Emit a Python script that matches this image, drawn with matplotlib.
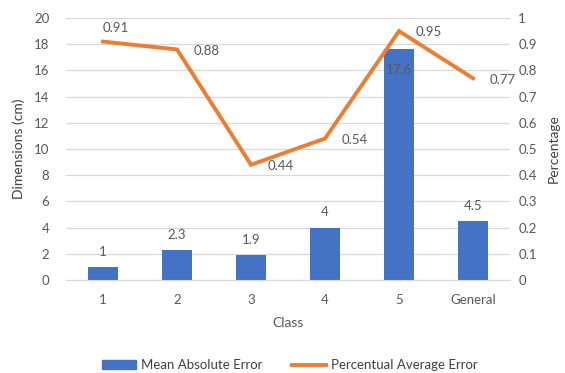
import numpy as np
import matplotlib.pyplot as plt
from matplotlib.lines import Line2D
from matplotlib.patches import Patch

classes = ['1', '2', '3', '4', '5', 'General']
mae = [1, 2.3, 1.9, 4, 17.6, 4.5]
pae = [0.91, 0.88, 0.44, 0.54, 0.95, 0.77]

BLUE = '#4472C4'
ORANGE = '#ED7D31'
GREY = '#595959'

plt.rcParams['font.family'] = ['Lato', 'DejaVu Sans']
plt.rcParams['font.size'] = 9.5

fig = plt.figure(figsize=(5.65, 3.73), dpi=100)
ax = fig.add_axes([66/565, 1 - 280/373, (510-66)/565, (280-18)/373])
ax2 = ax.twinx()

x = np.arange(len(classes))
ax.bar(x, mae, width=0.41, color=BLUE, zorder=2)
ax2.plot(x, pae, color=ORANGE, lw=2.8, solid_joinstyle='miter', zorder=3)

ax.set_xlim(-0.5, len(classes) - 0.5)
ax.set_ylim(0, 20)
ax.set_yticks(range(0, 21, 2))
ax2.set_ylim(0, 1)
ax2.set_yticks(np.linspace(0, 1, 11))
ax2.set_yticklabels(['0', '0.1', '0.2', '0.3', '0.4', '0.5', '0.6', '0.7', '0.8', '0.9', '1'])
ax.set_xticks(x)
ax.set_xticklabels(classes)

ax.yaxis.grid(True, color='#D9D9D9', lw=0.9, zorder=0)
ax.set_axisbelow(True)
for a in (ax, ax2):
    for s in a.spines.values():
        s.set_visible(False)
    a.tick_params(length=0, colors=GREY, labelsize=9.5)
ax.spines['bottom'].set_visible(True)
ax.spines['bottom'].set_color('#D9D9D9')
ax.tick_params(axis='x', pad=10)
ax.tick_params(axis='y', pad=12)
ax2.tick_params(axis='y', pad=6)

ax.set_xlabel('Class', color=GREY, fontsize=10, labelpad=8)
ax.set_ylabel('Dimensions (cm)', color='#404040', fontsize=10, labelpad=6)
ax2.set_ylabel('Percentage', color='#404040', fontsize=10, labelpad=8)

# value labels on the bars
for i, v in enumerate(mae):
    if v > 15:
        ax.annotate(f'{v:g}', (i, v), xytext=(0, -15), textcoords='offset points',
                    ha='center', va='center', color=GREY, fontsize=9.5)
    else:
        ax.annotate(f'{v:g}', (i, v), xytext=(0, 11), textcoords='offset points',
                    ha='center', va='center', color=GREY, fontsize=9.5)

# value labels on the line
for i, v in enumerate(pae):
    if i == 0:
        off = (9, 10)
    else:
        off = (12, -1)
    ax2.annotate(f'{v:g}', (i, v), xytext=off, textcoords='offset points',
                 ha='left' if i else 'center', va='center', color=GREY, fontsize=9.5)

handles = [Patch(color=BLUE), Line2D([], [], color=ORANGE, lw=2.8)]
fig.legend(handles, ['Mean Absolute Error', 'Percentual Average Error'],
           loc='center', bbox_to_anchor=(290/565, 1 - 365/373), ncol=2, frameon=False,
           handlelength=2.6, handleheight=0.6, columnspacing=2.2, handletextpad=0.4,
           labelcolor='#404040', fontsize=9.5)

fig.savefig('out.png', dpi=100, facecolor='white')
